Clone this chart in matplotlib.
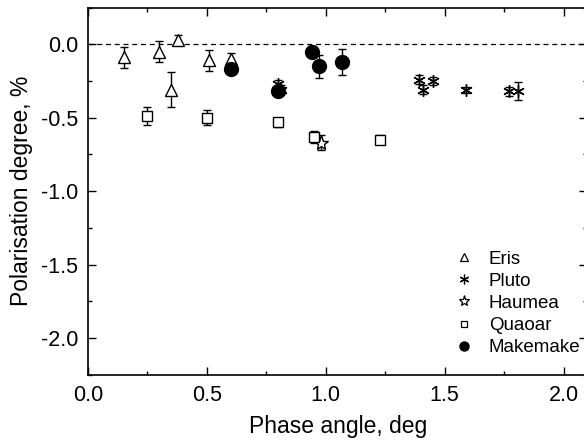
import matplotlib
matplotlib.use('Agg')
import matplotlib.pyplot as plt
from matplotlib.lines import Line2D
from matplotlib.ticker import MultipleLocator

plt.rcParams['font.family'] = ['Liberation Sans', 'DejaVu Sans']
plt.rcParams['axes.unicode_minus'] = False

# data
eris_x = [0.15, 0.30, 0.38, 0.35, 0.51, 0.60]
eris_y = [-0.09, -0.05, 0.03, -0.31, -0.11, -0.10]
eris_e = [0.07, 0.07, 0.03, 0.12, 0.07, 0.04]

pluto_x = [0.80, 0.81, 1.39, 1.41, 1.45, 1.59, 1.77, 1.81]
pluto_y = [-0.27, -0.31, -0.24, -0.31, -0.25, -0.31, -0.32, -0.32]
pluto_e = [0.03, 0.03, 0.03, 0.03, 0.03, 0.02, 0.03, 0.06]

haumea_x = [0.98]
haumea_y = [-0.67]
haumea_e = [0.05]

quaoar_x = [0.25, 0.50, 0.80, 0.95, 1.23]
quaoar_y = [-0.49, -0.50, -0.53, -0.63, -0.65]
quaoar_e = [0.06, 0.05, 0.03, 0.04, 0.03]

make_x = [0.60, 0.80, 0.94, 0.97, 1.07]
make_y = [-0.17, -0.32, -0.05, -0.15, -0.12]
make_e = [0.02, 0.03, 0.04, 0.08, 0.09]

names = ['Eris', 'Pluto', 'Haumea', 'Quaoar', 'Makemake']

fig = plt.figure(figsize=(5.84, 4.43), dpi=100)
ax = fig.add_axes([0.1507, 0.154, 0.855, 0.829])

ax.axhline(0, color='black', linestyle='--', linewidth=0.9, dashes=(4, 3))

kw = dict(color='black', ecolor='black', capsize=3, elinewidth=1, capthick=1, linestyle='none')
ax.errorbar(eris_x, eris_y, yerr=eris_e, marker='^', ms=9, mfc='white', mew=1, **kw)
ax.errorbar(pluto_x, pluto_y, yerr=pluto_e, marker=(6, 2, 0), ms=9, mew=1, **kw)
ax.errorbar(haumea_x, haumea_y, yerr=haumea_e, marker='*', ms=11, mfc='white', mew=1, **kw)
ax.errorbar(quaoar_x, quaoar_y, yerr=quaoar_e, marker='s', ms=6.5, mfc='white', mew=1, **kw)
ax.errorbar(make_x, make_y, yerr=make_e, marker='o', ms=10, mfc='black', **kw)

handles = [
    Line2D([], [], color='black', ls='none', marker='^', ms=6, mfc='white', mew=0.9),
    Line2D([], [], color='black', ls='none', marker=(6, 2, 0), ms=7, mew=0.9),
    Line2D([], [], color='black', ls='none', marker='*', ms=8, mfc='white', mew=0.9),
    Line2D([], [], color='black', ls='none', marker='s', ms=5, mfc='white', mew=0.9),
    Line2D([], [], color='black', ls='none', marker='o', ms=6.5, mfc='black'),
]

ax.set_xlim(0, 2.1)
ax.set_ylim(-2.25, 0.25)
ax.xaxis.set_major_locator(MultipleLocator(0.5))
ax.xaxis.set_minor_locator(MultipleLocator(0.25))
ax.yaxis.set_major_locator(MultipleLocator(0.5))
ax.yaxis.set_minor_locator(MultipleLocator(0.25))
ax.tick_params(which='both', direction='in', top=True, right=True, labelsize=15.5, width=1)
ax.tick_params(which='major', length=6, pad=7)
ax.tick_params(which='minor', length=3)
for s in ax.spines.values():
    s.set_linewidth(1.2)

ax.set_xlabel('Phase angle, deg', fontsize=16.5, labelpad=7)
ax.set_ylabel('Polarisation degree, %', fontsize=16.5, labelpad=6)

ax.legend(handles, names, loc='lower left', bbox_to_anchor=(0.735, 0.05), frameon=False,
          fontsize=13.5, handlelength=1.0, handletextpad=0.8, labelspacing=0.27,
          borderaxespad=0, borderpad=0)

fig.savefig('out.png', dpi=100)
